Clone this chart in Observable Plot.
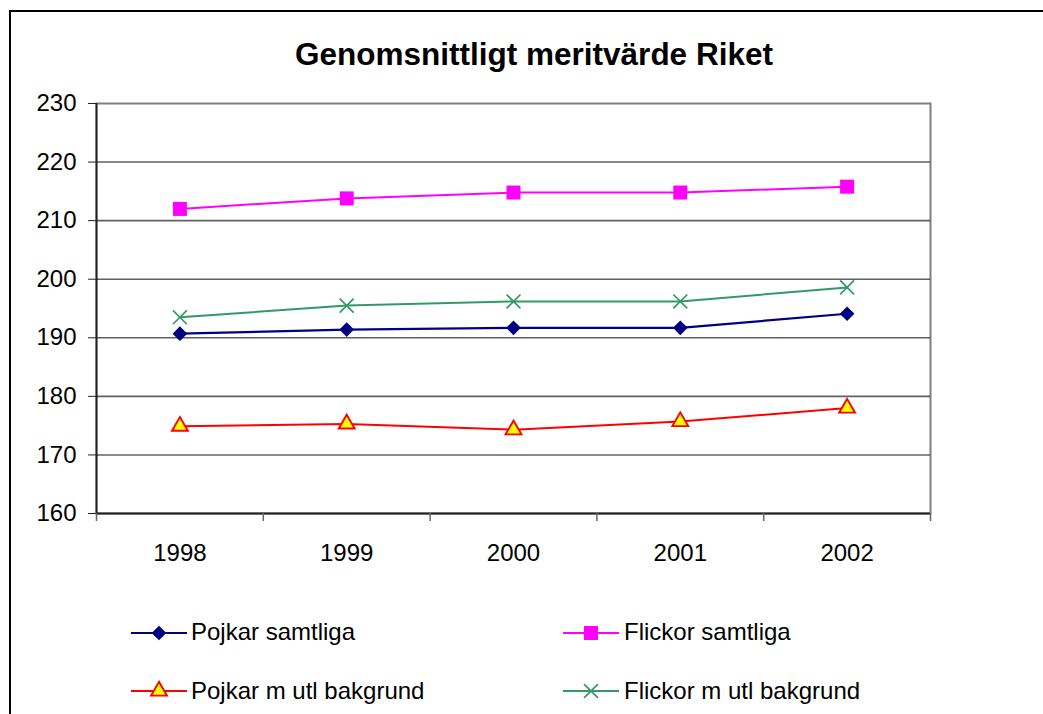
<!DOCTYPE html>
<html>
<head>
<meta charset="utf-8">
<script src="https://cdn.jsdelivr.net/npm/d3@7"></script>
<script src="https://cdn.jsdelivr.net/npm/@observablehq/plot@0.6"></script>
<style>
html, body { margin: 0; padding: 0; background: #fff; overflow: hidden; }
#wrap { position: relative; width: 1043px; height: 714px; font-family: "Liberation Sans", Arial, sans-serif; color: #000; }
#chart { position: absolute; left: 0; top: 0; }
#border { position: absolute; left: 9px; top: 10px; width: 1100px; height: 800px; border: 2px solid #000; box-sizing: border-box; pointer-events: none; }
#title { position: absolute; left: 0; top: 39px; width: 1068px; text-align: center; font-weight: bold; font-size: 31.5px; line-height: 31px; white-space: nowrap; }
.leg { position: absolute; font-size: 24px; line-height: 24px; white-space: nowrap; }
.sw { position: absolute; }
</style>
</head>
<body>
<div id="wrap">
  <div id="chart"></div>
  <div id="title">Genomsnittligt meritvärde Riket</div>
  <div id="legend"></div>
  <div id="border"></div>
</div>
<script>
// ---- data ----
const years = [1998, 1999, 2000, 2001, 2002];
const seriesNames = ["Pojkar samtliga", "Flickor samtliga", "Pojkar m utl bakgrund", "Flickor m utl bakgrund"];
const pojkarSamtliga = [190.7, 191.4, 191.7, 191.7, 194.1];
const flickorSamtliga = [212.0, 213.8, 214.8, 214.8, 215.8];
const pojkarUtl = [174.9, 175.3, 174.3, 175.7, 178.0];
const flickorUtl = [193.5, 195.5, 196.2, 196.2, 198.6];
const yTicks = [160, 170, 180, 190, 200, 210, 220, 230];

// ---- styles ----
const styles = [
  {values: pojkarSamtliga, stroke: "#000080", symbol: "diamond2", fill: "#000080", mstroke: "none", r: 6.6, sw: 2.2},
  {values: flickorSamtliga, stroke: "#FF00FF", symbol: "square", fill: "#FF00FF", mstroke: "none", r: 7.9, sw: 2},
  {values: pojkarUtl, stroke: "#FF0000", symbol: "triangle", fill: "#FFFF00", mstroke: "#FF0000", r: 5.9, sw: 2},
  {values: flickorUtl, stroke: "#339966", symbol: "times", fill: "none", mstroke: "#339966", r: 6.4, sw: 2}
];

const rows = [];
seriesNames.forEach((name, i) => {
  years.forEach((yr, j) => rows.push({series: name, year: yr, value: styles[i].values[j]}));
});

const xDomain = [years[0] - 0.5, years[years.length - 1] + 0.5];
const boundaries = [...years.map(y => y - 0.5), years[years.length - 1] + 0.5];
const yDomain = [yTicks[0], yTicks[yTicks.length - 1]];

const marks = [
  Plot.frame({stroke: "#808080", strokeWidth: 2}),
  Plot.gridY(yTicks.slice(1, -1), {stroke: "#000", strokeOpacity: 0.62, strokeWidth: 1.6}),
  Plot.ruleY([yDomain[0]], {stroke: "#222", strokeWidth: 1.8}),
  Plot.ruleX([xDomain[0]], {stroke: "#222", strokeWidth: 1.8}),
  Plot.axisY({ticks: yTicks, tickSize: 8, tickPadding: 12, fontSize: 24, label: null, stroke: "#222"}),
  Plot.axisX({ticks: years, tickSize: 0, tickPadding: 30, tickFormat: d => String(d), fontSize: 24, label: null}),
  Plot.axisX({ticks: boundaries, tickSize: 8, tickFormat: () => "", label: null, stroke: "#666", strokeWidth: 1.5})
];
styles.forEach((s, i) => {
  const data = rows.filter(d => d.series === seriesNames[i]);
  marks.push(Plot.line(data, {x: "year", y: "value", stroke: s.stroke, strokeWidth: s.sw}));
});
styles.forEach((s, i) => {
  const data = rows.filter(d => d.series === seriesNames[i]);
  marks.push(Plot.dot(data, {x: "year", y: "value", symbol: s.symbol, r: s.r, fill: s.fill, stroke: s.mstroke, strokeWidth: s.symbol === "times" ? 1.7 : 1.9}));
});

const chart = Plot.plot({
  width: 1043,
  height: 714,
  marginLeft: 96,
  marginRight: 113,
  marginTop: 103,
  marginBottom: 201,
  style: {fontFamily: "Liberation Sans, Arial, sans-serif", fontSize: "24px", background: "transparent", color: "#000"},
  x: {type: "linear", domain: xDomain},
  y: {domain: yDomain},
  marks
});
document.getElementById("chart").appendChild(chart);

// ---- legend ----
const legend = document.getElementById("legend");
const symbolMap = {diamond2: d3.symbolDiamond2, square: d3.symbolSquare, triangle: d3.symbolTriangle, times: d3.symbolTimes};
const legPos = [
  {lx: 131, tx: 191, ly: 633, ty: 620},
  {lx: 563, tx: 624, ly: 633, ty: 620},
  {lx: 131, tx: 191, ly: 691, ty: 679},
  {lx: 563, tx: 624, ly: 691, ty: 679}
];
styles.forEach((s, i) => {
  const p = legPos[i];
  const svg = d3.create("svg").attr("class", "sw").attr("width", 56).attr("height", 24)
    .style("left", p.lx + "px").style("top", (p.ly - 12) + "px");
  svg.append("line").attr("x1", 0).attr("x2", 56).attr("y1", 12).attr("y2", 12)
    .attr("stroke", s.stroke).attr("stroke-width", s.sw);
  svg.append("path").attr("transform", "translate(28,12)")
    .attr("d", d3.symbol(symbolMap[s.symbol], Math.PI * s.r * s.r)())
    .attr("fill", s.fill).attr("stroke", s.mstroke).attr("stroke-width", s.symbol === "times" ? 1.7 : 1.9);
  legend.appendChild(svg.node());
  const t = document.createElement("div");
  t.className = "leg";
  t.style.left = p.tx + "px";
  t.style.top = p.ty + "px";
  t.textContent = seriesNames[i];
  legend.appendChild(t);
});
</script>
</body>
</html>
